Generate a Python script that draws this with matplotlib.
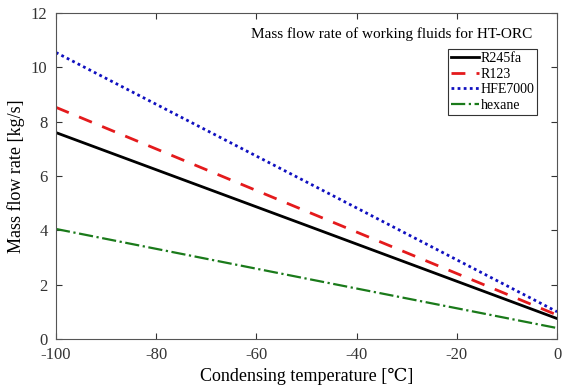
import matplotlib
matplotlib.use("Agg")
import matplotlib.pyplot as plt
import numpy as np

plt.rcParams['font.family'] = ['Liberation Serif', 'DejaVu Serif', 'DejaVu Sans']
plt.rcParams['axes.unicode_minus'] = False

# condensing temperature [C]
temp = [-100, -50, 0]
# mass flow rates [kg/s]
r245fa = [7.60, 4.18, 0.75]
r123 = [8.53, 4.70, 0.88]
hfe7000 = [10.55, 5.78, 1.00]
hexane = [4.05, 2.22, 0.40]

fig = plt.figure(figsize=(5.65, 3.86), dpi=100)
ax = fig.add_axes([0.099, 0.122, 0.887, 0.844])

ax.plot(temp, r245fa, color='black', lw=2.0, ls='-', label='R245fa')
ax.plot(temp, r123, color='#e41a1c', lw=2.0, ls=(0, (5, 4)), label='R123')
ax.plot(temp, hfe7000, color='#1010c0', lw=2.0, ls=(0, (1, 1.2)), label='HFE7000')
ax.plot(temp, hexane, color='#1a7a1a', lw=1.6, ls='-.', label='hexane')

ax.set_xlim(-100, 0)
ax.set_ylim(0, 12)
ax.set_xticks(np.arange(-100, 1, 20))
ax.set_yticks(np.arange(0, 13, 2))
ax.tick_params(direction='in', top=True, right=True, labelsize=12, length=4, colors='#333333')
ax.tick_params(axis='x', pad=6)
ax.tick_params(axis='y', pad=6)
for s in ax.spines.values():
    s.set_color('#555555')
    s.set_linewidth(0.8)

ax.set_xlabel('Condensing temperature [℃]', fontsize=13, labelpad=3)
ax.set_ylabel('Mass flow rate [kg/s]', fontsize=13)

ax.text(0.67, 0.935, 'Mass flow rate of working fluids for HT-ORC', transform=ax.transAxes,
        ha='center', va='center', fontsize=11)

leg = ax.legend(loc='upper right', bbox_to_anchor=(0.96, 0.89), fontsize=10, frameon=True,
                fancybox=False, edgecolor='#333333', framealpha=1, handlelength=2.0,
                handletextpad=0.1, borderpad=0.2, labelspacing=0.2, borderaxespad=0)
leg.get_frame().set_linewidth(0.8)

fig.savefig('out.png', dpi=100)
